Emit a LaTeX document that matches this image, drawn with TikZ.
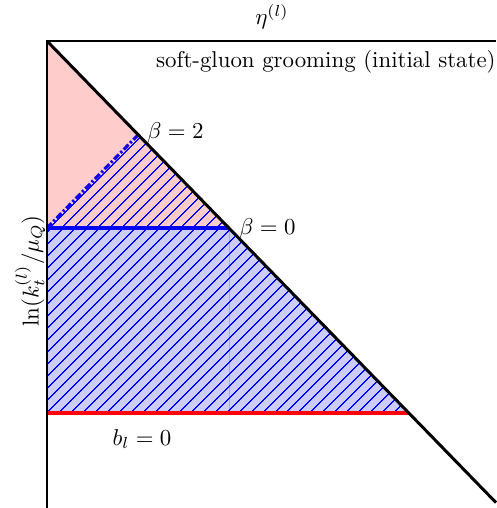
\documentclass[tikz,border=0pt]{standalone}
\usetikzlibrary{patterns.meta}
\begin{document}
\begin{tikzpicture}[x=0.4375pt,y=-0.4375pt,
  hatch/.style={pattern={Lines[angle=45,distance=4pt,line width=0.55pt]},pattern color=blue},
  axis/.style={black,line width=0.9pt},
  diag/.style={black,line width=1.3pt},
  lbl/.style={inner sep=0pt},
]
\useasboundingbox (0,0) rectangle (496,508);
% key points
\coordinate (O) at (47,41);
\coordinate (TR) at (496,41);
\coordinate (BL) at (47,508);
\coordinate (B2) at (138,135);
\coordinate (B0) at (229,228);
\coordinate (L0) at (47,228);
\coordinate (R0) at (409,413);
\coordinate (L1) at (47,413);
\coordinate (DE) at (496,502.6);
% fills
\fill[red!20] (O) -- (B0) -- (L0) -- cycle;
\fill[hatch] (L0) -- (B2) -- (B0) -- cycle;
\fill[blue!20] (L0) -- (B0) -- (R0) -- (L1) -- cycle;
\draw[blue!35,line width=0.4pt] (B0) -- (B0 |- L1);
\fill[hatch] (L0) -- (B0) -- (R0) -- (L1) -- cycle;
% lines
\draw[blue!85!violet,line width=1.4pt,dash pattern=on 3pt off 1pt on 1pt off 1pt] (L0) -- (B2);
\draw[blue,line width=1.5pt] (L0) -- (B0);
\draw[red,line width=1.5pt] (L1) -- (R0);
\draw[axis] (BL) -- (O) -- (TR);
\draw[diag] (O) -- (DE);
% labels
\node[lbl,anchor=west] (lb2) at (147,133) {$\beta=2$};
\node[lbl,anchor=west] (lb0) at (239,229) {$\beta=0$};
\node[lbl] (lbl0) at (142,439) {$b_l=0$};
\node[lbl,anchor=east] (title) at (496,62) {soft-gluon grooming (initial state)};
\node[lbl] (eta) at (272,17) {$\eta^{(l)}$};
\node[lbl,rotate=90] (kt) at (30,271) {$\ln(k_t^{(l)}/\mu_Q)$};
\end{tikzpicture}
\end{document}
